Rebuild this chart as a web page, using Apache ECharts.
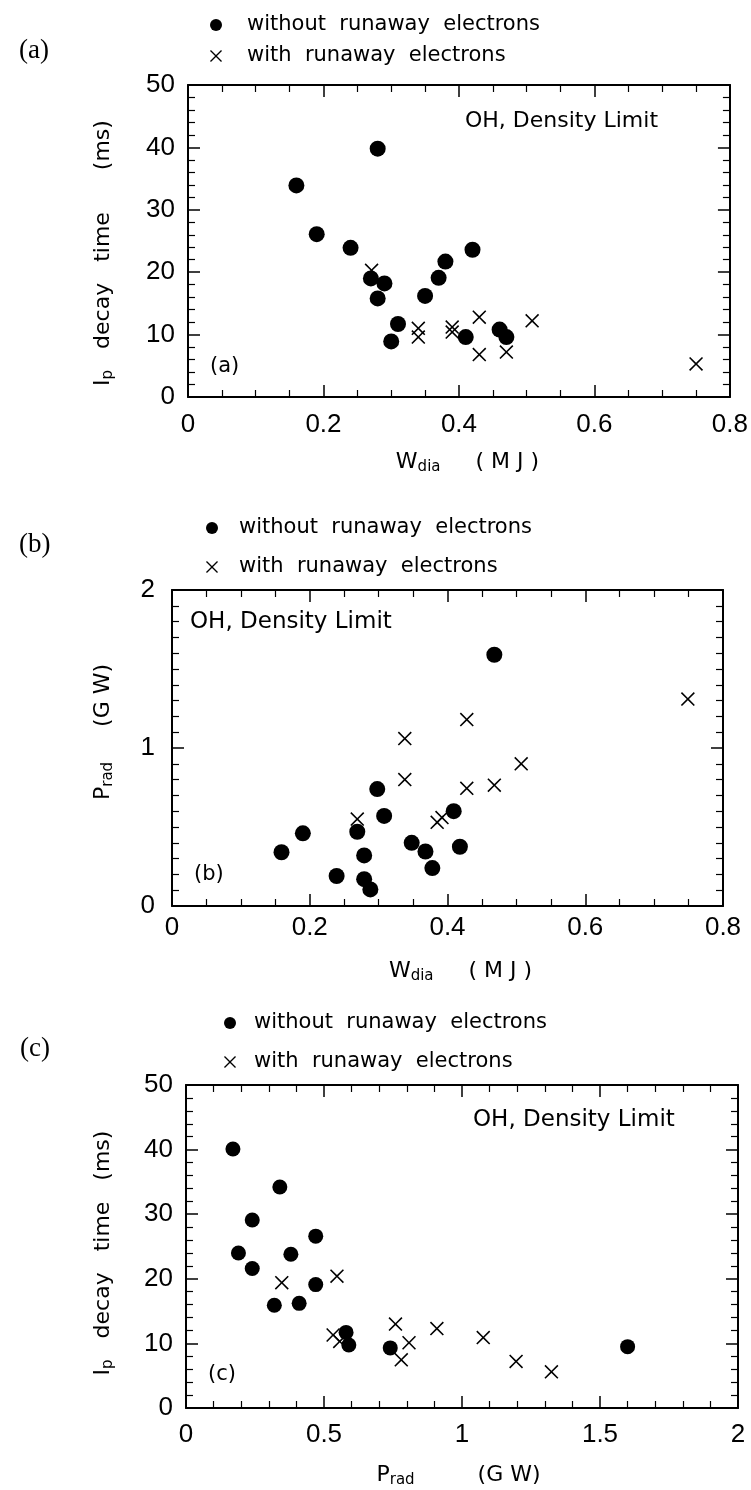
<!DOCTYPE html>
<html>
<head>
<meta charset="utf-8">
<script src="https://cdn.jsdelivr.net/npm/echarts@6/dist/echarts.min.js"></script>
<style>
html,body{margin:0;padding:0;background:#fff;}
#c{width:751px;height:1490px;}
</style>
</head>
<body>
<div id="c"></div>
<script>
// ---------- data ----------
const seriesNames = ['without runaway electrons', 'with runaway electrons'];

// (a) Ip decay time (ms) vs W_dia (MJ)
const a_noRE_W   = [0.16, 0.28, 0.19, 0.24, 0.27, 0.29, 0.28, 0.31, 0.30, 0.35, 0.37, 0.38, 0.42, 0.41, 0.46, 0.47];
const a_noRE_tau = [33.9, 39.8, 26.1, 23.9, 19.0, 18.2, 15.8, 11.7, 8.9, 16.2, 19.1, 21.7, 23.6, 9.6, 10.8, 9.6];
const a_RE_W     = [0.271, 0.34, 0.34, 0.39, 0.39, 0.43, 0.43, 0.47, 0.508, 0.75];
const a_RE_tau   = [20.3, 11.0, 9.6, 11.2, 10.4, 12.8, 6.8, 7.2, 12.2, 5.3];

// (b) P_rad (GW) vs W_dia (MJ)
const b_noRE_W = [0.468, 0.298, 0.308, 0.19, 0.159, 0.269, 0.279, 0.348, 0.368, 0.409, 0.418, 0.378, 0.239, 0.279, 0.288];
const b_noRE_P = [1.59, 0.74, 0.57, 0.46, 0.34, 0.47, 0.32, 0.40, 0.345, 0.60, 0.375, 0.24, 0.19, 0.17, 0.105];
const b_RE_W   = [0.269, 0.338, 0.338, 0.385, 0.392, 0.428, 0.428, 0.468, 0.507, 0.749];
const b_RE_P   = [0.55, 1.06, 0.80, 0.53, 0.56, 1.18, 0.745, 0.765, 0.90, 1.31];

// (c) Ip decay time (ms) vs P_rad (GW)
const c_noRE_P   = [0.17, 0.34, 0.24, 0.19, 0.38, 0.24, 0.47, 0.47, 0.32, 0.41, 0.58, 0.59, 0.74, 1.60];
const c_noRE_tau = [40.1, 34.2, 29.1, 24.0, 23.8, 21.6, 26.6, 19.1, 15.9, 16.2, 11.7, 9.75, 9.3, 9.5];
const c_RE_P     = [0.347, 0.547, 0.533, 0.557, 0.759, 0.808, 0.78, 0.909, 1.077, 1.196, 1.324];
const c_RE_tau   = [19.4, 20.4, 11.3, 10.3, 13.0, 10.1, 7.45, 12.3, 10.9, 7.2, 5.6];

// tick labels
const ticksW   = [0, 0.2, 0.4, 0.6, 0.8];
const ticksTau = [0, 10, 20, 30, 40, 50];
const ticksPy  = [0, 1, 2];
const ticksPx  = [0, 0.5, 1, 1.5, 2];

// ---------- helpers ----------
const INK = '#000';
const TICK_FONT = 'Liberation Sans';
const TEXT_FONT = 'DejaVu Sans';
const CROSS = 'path://M0,8L8,0L50,42L92,0L100,8L58,50L100,92L92,100L50,58L8,100L0,92L42,50Z';

function zip(xs, ys) { return xs.map((x, i) => [x, ys[i]]); }

function richName() {
  return {
    m: {fontFamily: TEXT_FONT, fontSize: 22, lineHeight: 26, color: INK},
    s: {fontFamily: TEXT_FONT, fontSize: 15, lineHeight: 15, color: INK, verticalAlign: 'bottom'}
  };
}

function baseAxis(gridIndex, ticks, minorSplit) {
  return {
    type: 'value', gridIndex: gridIndex,
    min: ticks[0], max: ticks[ticks.length - 1], interval: ticks[1] - ticks[0],
    axisLine: {show: true, onZero: false, lineStyle: {color: INK, width: 2}},
    axisTick: {show: true, inside: true, length: 12, lineStyle: {color: INK, width: 1.5}},
    minorTick: {show: true, splitNumber: minorSplit, length: 7, lineStyle: {color: INK, width: 1.2}},
    splitLine: {show: false}, minorSplitLine: {show: false}
  };
}

function axisPair(kind, gridIndex, ticks, minorSplit, labelMargin, name, nameGap, namePadding) {
  const main = baseAxis(gridIndex, ticks, minorSplit);
  main.position = kind === 'x' ? 'bottom' : 'left';
  main.axisLabel = {show: true, margin: labelMargin, fontFamily: TICK_FONT, fontSize: 26, color: INK};
  main.name = name;
  main.nameLocation = 'middle';
  main.nameGap = nameGap;
  main.nameTextStyle = {fontFamily: TEXT_FONT, fontSize: 22, color: INK, padding: namePadding, rich: richName()};
  const mirror = baseAxis(gridIndex, ticks, minorSplit);
  mirror.position = kind === 'x' ? 'top' : 'right';
  mirror.axisLabel = {show: false};
  return [main, mirror];
}

const nameTau = (g1, g2, g3) => '{m|I}{s|p}{m|' + ' '.repeat(g1) + 'decay' + ' '.repeat(g2) + 'time' + ' '.repeat(g3) + '(ms)}';
const nameW = '{m|W}{s|dia}{m|     ( M J )}';
const namePx = '{m|P}{s|rad}{m|         (G W)}';
const namePy = '{m|P}{s|rad}{m|     (G W)}';

function legendFor(left, top, gap, pad) {
  return {
    orient: 'vertical', left: left, top: top, itemGap: gap,
    itemWidth: 12, itemHeight: 12, selectedMode: false,
    data: seriesNames,
    formatter: n => n.split(' ').join('  '),
    textStyle: {fontFamily: TEXT_FONT, fontSize: 21, lineHeight: 22, color: INK, padding: [0, 0, 0, pad]}
  };
}

function scatterPair(idx, noRE, RE, dotSize, crossSize) {
  return [
    {type: 'scatter', name: seriesNames[0], xAxisIndex: 2 * idx, yAxisIndex: 2 * idx,
     data: noRE, symbol: 'circle', symbolSize: dotSize, itemStyle: {color: INK, opacity: 1}, z: 3},
    {type: 'scatter', name: seriesNames[1], xAxisIndex: 2 * idx, yAxisIndex: 2 * idx,
     data: RE, symbol: CROSS, symbolSize: crossSize, itemStyle: {color: INK, opacity: 1}, z: 4}
  ];
}

function txt(x, y, text, size, family) {
  return {type: 'text', x: x, y: y, silent: true,
    style: {text: text, fontSize: size, fontFamily: family, fill: INK,
      align: 'left', verticalAlign: 'middle', textAlign: 'left', textVerticalAlign: 'middle'}};
}

// ---------- option ----------
const xA = axisPair('x', 0, ticksW, 4, 15, nameW, 52, [0, 0, 0, 17]);
const yA = axisPair('y', 0, ticksTau, 5, 13, nameTau(3, 3, 6), 72, [0, 24, 0, 0]);
const xB = axisPair('x', 1, ticksW, 4, 9, nameW, 52, [0, 0, 0, 26]);
const yB = axisPair('y', 1, ticksPy, 10, 17, namePy, 56, [0, 0, 0, 32]);
const xC = axisPair('x', 2, ticksPx, 5, 14, namePx, 54, [0, 7, 0, 0]);
const yC = axisPair('y', 2, ticksTau, 5, 13, nameTau(3, 3, 3), 70, [0, 13, 0, 0]);

const option = {
  backgroundColor: '#fff',
  animation: false,
  grid: [
    {left: 188, right: 21, top: 85, height: 312},
    {left: 172, right: 28, top: 590, height: 316},
    {left: 186, right: 13, top: 1085, height: 323}
  ],
  xAxis: [].concat(xA, xB, xC),
  yAxis: [].concat(yA, yB, yC),
  legend: [
    legendFor(205, 9, 9, 20),
    legendFor(201, 512, 17, 16),
    legendFor(219, 1007, 17, 13)
  ],
  series: [].concat(
    scatterPair(0, zip(a_noRE_W, a_noRE_tau), zip(a_RE_W, a_RE_tau), 16, 14),
    scatterPair(1, zip(b_noRE_W, b_noRE_P), zip(b_RE_W, b_RE_P), 16, 14),
    scatterPair(2, zip(c_noRE_P, c_noRE_tau), zip(c_RE_P, c_RE_tau), 15, 14)
  ),
  graphic: [
    txt(19, 51, '(a)', 27, 'Liberation Serif'),
    txt(19, 545, '(b)', 27, 'Liberation Serif'),
    txt(20, 1049, '(c)', 27, 'Liberation Serif'),
    txt(465, 121, 'OH, Density Limit', 22, TEXT_FONT),
    txt(190, 622, 'OH, Density Limit', 23, TEXT_FONT),
    txt(473, 1120, 'OH, Density Limit', 23, TEXT_FONT),
    txt(210, 367, '(a)', 21, TEXT_FONT),
    txt(194, 875, '(b)', 21, TEXT_FONT),
    txt(208, 1375, '(c)', 21, TEXT_FONT)
  ]
};

const chart = echarts.init(document.getElementById('c'));
chart.setOption(option);
</script>
</body>
</html>
